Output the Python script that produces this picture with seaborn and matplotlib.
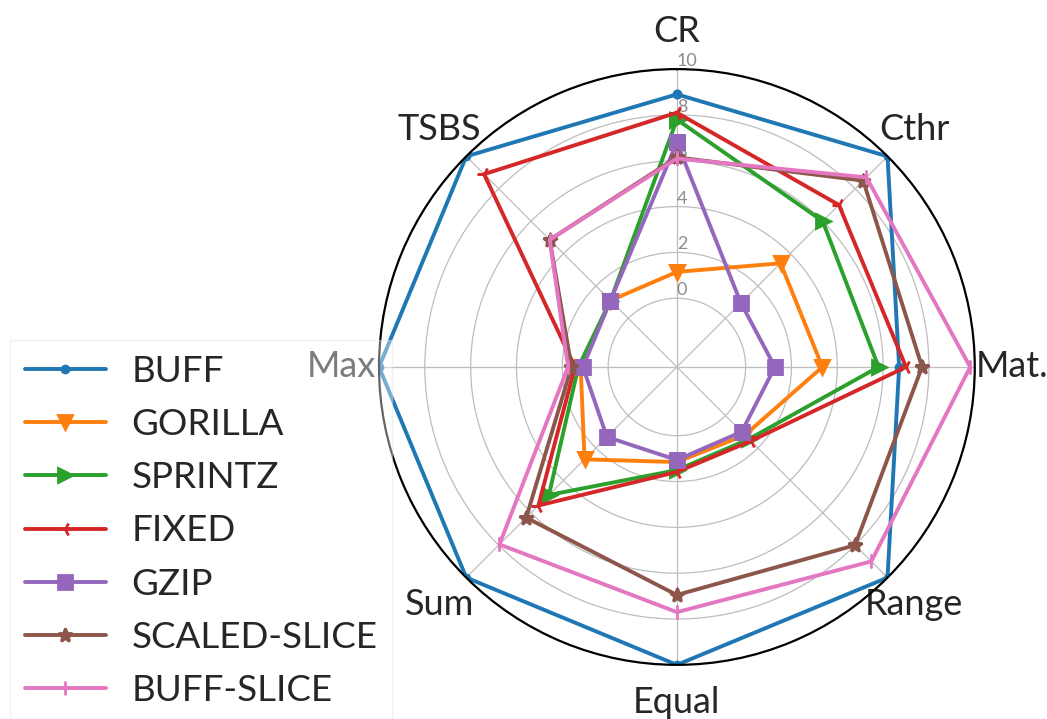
import numpy as np
import pandas as pd
import matplotlib
matplotlib.use("Agg")
import matplotlib.pyplot as plt
import seaborn as sns

# Axis categories (clockwise from the top)
categories = ["CR", "Cthr", "Mat.", "Range", "Equal", "Sum", "Max", "TSBS"]

# Scores per method, same order as the categories
buff         = [8.9, 10.0, 6.7, 10.0, 10.0, 10.0, 10.0, 10.0]
gorilla      = [1.15, 3.4, 3.35, 1.2, 1.15, 2.7, 1.2, 1.1]
sprintz      = [7.8, 6.0, 5.8, 1.45, 1.5, 4.9, 1.3, 1.1]
fixed        = [8.1, 7.0, 7.0, 1.57, 1.58, 5.55, 1.45, 8.9]
gzip         = [6.8, 0.95, 1.28, 1.0, 1.06, 1.32, 1.1, 1.1]
scaled_slice = [6.15, 8.5, 7.7, 8.0, 6.95, 6.3, 1.6, 4.85]
buff_slice   = [6.1, 8.7, 9.8, 9.0, 7.7, 7.95, 1.75, 4.85]

methods = ["BUFF", "GORILLA", "SPRINTZ", "FIXED", "GZIP", "SCALED-SLICE", "BUFF-SLICE"]
series = [buff, gorilla, sprintz, fixed, gzip, scaled_slice, buff_slice]
markers = [".", "v", ">", "3", "s", "*", "|"]

radial_ticks = [0, 2, 4, 6, 8, 10]

sns.set_theme(style="white")
plt.rcParams["font.family"] = ["Lato", "DejaVu Sans"]

palette = sns.color_palette("tab10", len(methods))

fig = plt.figure(figsize=(10.47, 7.19), dpi=100)
ax = fig.add_axes([0.362, 0.0751, 0.569, 0.829], projection="polar")
ax.set_theta_zero_location("N")
ax.set_theta_direction(-1)

n = len(categories)
angles = np.linspace(0, 2 * np.pi, n, endpoint=False)
theta_closed = np.concatenate([angles, [2 * np.pi]])

for name, vals, mk, col in zip(methods, series, markers, palette):
    df = pd.DataFrame({"theta": theta_closed,
                       "score": list(vals) + [vals[0]]})
    sns.lineplot(data=df, x="theta", y="score", ax=ax, sort=False,
                 estimator=None, color=col, linewidth=2.8, marker=mk,
                 markersize=10, markeredgewidth=2, markeredgecolor=col,
                 label=name)

ax.set_ylim(-3, 10)
ax.set_yticks(radial_ticks)
ax.set_yticklabels([str(t) for t in radial_ticks], color="#8c8c8c", fontsize=13)
ax.set_rlabel_position(0)
ax.set_xticks(angles)
ax.set_xticklabels(categories, fontsize=26)
ax.tick_params(axis="x", pad=14)
ax.set_xlabel("")
ax.set_ylabel("")
ax.grid(True, color="#bdbdbd", linewidth=0.9)
ax.spines["polar"].set_color("black")
ax.spines["polar"].set_linewidth(1.6)

ax.legend_.remove()
handles, labels = ax.get_legend_handles_labels()
fig.legend(handles, labels, loc="upper left",
           bbox_to_anchor=(10 / 1047, 1 - 340 / 719),
           bbox_transform=fig.transFigure, borderaxespad=0,
           fontsize=26.5, frameon=True, framealpha=0.4,
           edgecolor="#dddddd", fancybox=False, borderpad=0.4,
           handlelength=2.2, handletextpad=0.7, labelspacing=0.55)

fig.savefig("out.png", dpi=100)
